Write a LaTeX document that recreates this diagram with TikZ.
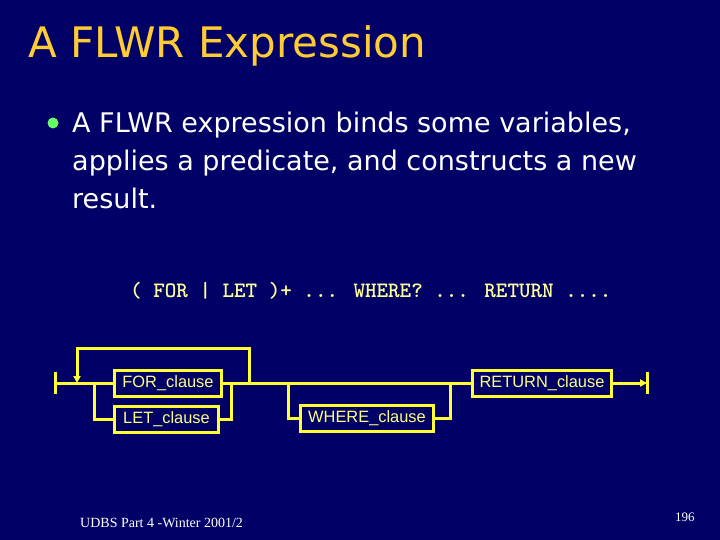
\documentclass[tikz,border=0pt]{standalone}
\usepackage{fontspec}
\setmainfont{DejaVu Sans}
\newfontfamily\arialfont{Liberation Sans}
\newfontfamily\timesfont{Liberation Serif}
\usetikzlibrary{arrows.meta,positioning}

\definecolor{slidebg}{HTML}{000066}
\definecolor{titlegold}{HTML}{FFCC33}
\definecolor{bulletgreen}{HTML}{66FF66}
\definecolor{syntaxyellow}{HTML}{FFFF99}
\definecolor{railyellow}{HTML}{FFFF33}
\definecolor{labelyellow}{HTML}{FFFF80}

\tikzset{
  rail/.style={draw=railyellow, line width=3pt},
  clause/.style={draw=railyellow, line width=3pt, minimum height=26pt, inner sep=0pt,
    font=\arialfont\fontsize{16.4}{18}\selectfont, text=labelyellow},
  bodytext/.style={anchor=base west, inner sep=0pt, text=white,
    font=\fontsize{27}{32}\selectfont}
}

\begin{document}
\begin{tikzpicture}[x=1pt, y=-1pt, >={Triangle[length=7pt,width=7pt]}]
\useasboundingbox (0,0) rectangle (720,540);
\fill[slidebg] (0,0) rectangle (720,540);

% titel en tekst
\node[anchor=base west, inner sep=0pt, text=titlegold, font=\fontsize{42}{48}\selectfont] (title) at (28,58) {A FLWR Expression};
\fill[bulletgreen] (53,123) circle (5.5) coordinate (bullet);
\node[bodytext] (line1) at (72,133) {A FLWR expression binds some variables,};
\node[bodytext] (line2) at (72,170.5) {applies a predicate, and constructs a new};
\node[bodytext] (line3) at (72,208) {result.};
\node[anchor=base west, inner sep=0pt, text=syntaxyellow, font=\ttfamily\bfseries\fontsize{22}{24}\selectfont] (syntax) at (130,297) {( FOR | LET )+ ... WHERE? ... RETURN ....};

% clauses
\node[clause, minimum width=107pt] (forbox) at (168,383) {FOR\_clause};
\node[clause, minimum width=104pt] (letbox) at (166.5,419) {LET\_clause};
\node[clause, minimum width=133pt] (wherebox) at (367,418) {WHERE\_clause};
\node[clause, minimum width=139pt] (retbox) at (542,383) {RETURN\_clause};

% punten op de hoofdlijn
\coordinate (entry) at (55,383);
\coordinate (exit) at (647,383);
\coordinate (loopin) at (77,383);
\coordinate (splitlet) at (94,383);
\coordinate (joinlet) at (231,383);
\coordinate (loopout) at (249,383);
\coordinate (splitwhere) at (288,383);
\coordinate (joinwhere) at (450,383);

% verbindingen
\draw[rail] ([yshift=11pt]entry) -- ([yshift=-11pt]entry);
\draw[rail] ([yshift=11pt]exit) -- ([yshift=-11pt]exit);
\draw[rail] (entry) -- (forbox.west);
\draw[rail] (forbox.east) -- (retbox.west);
\draw[rail,->] (loopout) -- ++(0,-35) -| (loopin);
\draw[rail] (splitlet) |- (letbox.west);
\draw[rail] (letbox.east) -| (joinlet);
\draw[rail] (splitwhere) |- (wherebox.west);
\draw[rail] (wherebox.east) -| (joinwhere);
\draw[rail,->] (retbox.east) -- (exit);

% voettekst
\node[anchor=base west, inner sep=0pt, text=white, font=\timesfont\fontsize{14}{16}\selectfont] (footer) at (80,527) {UDBS Part 4 -Winter 2001/2};
\node[anchor=base west, inner sep=0pt, text=white, font=\timesfont\fontsize{13}{15}\selectfont] (pagenum) at (675,521) {196};
\end{tikzpicture}
\end{document}
